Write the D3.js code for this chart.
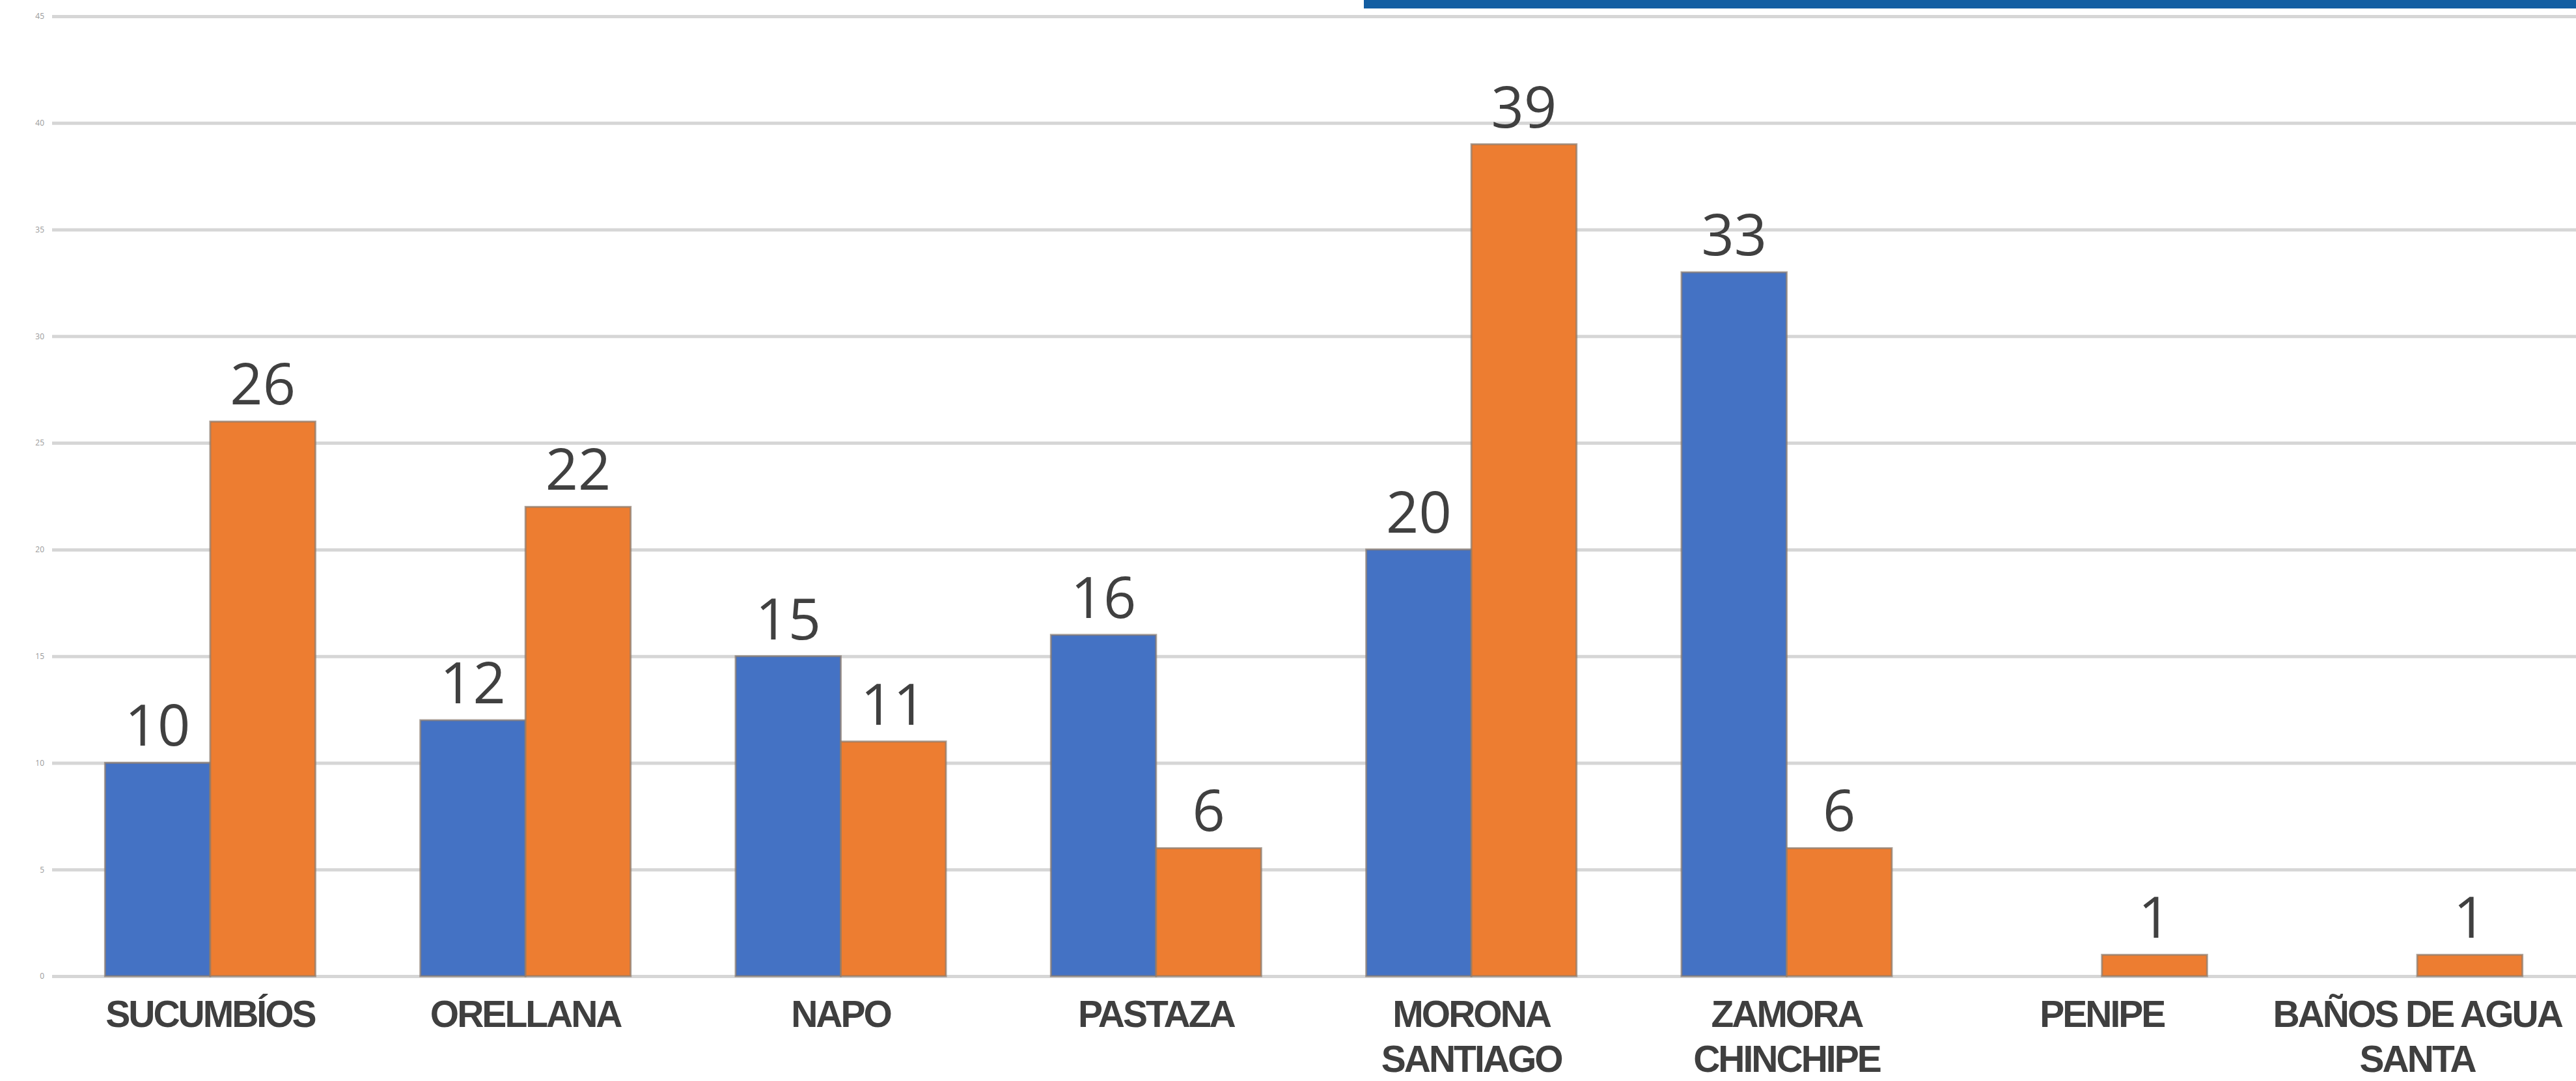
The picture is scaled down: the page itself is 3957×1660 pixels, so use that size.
<!DOCTYPE html>
<html><head><meta charset="utf-8">
<script src="https://cdn.jsdelivr.net/npm/d3@7"></script>
<style>html,body{margin:0;padding:0;background:#fff;overflow:hidden}</style>
</head><body>
<svg id="c" width="3957" height="1660"></svg>
<script>
const categories = [["SUCUMBÍOS"],["ORELLANA"],["NAPO"],["PASTAZA"],["MORONA","SANTIAGO"],["ZAMORA","CHINCHIPE"],["PENIPE"],["BAÑOS DE AGUA","SANTA"]];
const seriesA = [10,12,15,16,20,33,0,0];
const seriesB = [26,22,11,6,39,6,1,1];
const yTicks = [0,5,10,15,20,25,30,35,40,45];

const W = 3957, H = 1660;
const svg = d3.select("#c");
const keys = categories.map((c,i)=>String(i));
const x = d3.scaleBand().domain(keys).range([80, 3956]).paddingInner(0.333).paddingOuter(0.168);
const xs = d3.scaleBand().domain(["a","b"]).range([0, x.bandwidth()]).padding(0);
const y = d3.scaleLinear().domain([0,45]).range([1499, 25]);

// top decorative banner
svg.append("rect").attr("x",2095).attr("y",0).attr("width",W-2095).attr("height",13).attr("fill","#135ea2");

// gridlines
const gAxis = svg.append("g").attr("transform","translate(80,0)")
  .call(d3.axisLeft(y).tickValues(yTicks).tickSize(-(W-80)).tickPadding(12));
gAxis.select(".domain").remove();
gAxis.selectAll(".tick line").attr("stroke","#d6d6d6").attr("stroke-width",5);
gAxis.selectAll(".tick text").attr("fill","#9a9a9a").attr("font-size",12).attr("font-family","Open Sans");

const groups = svg.append("g").selectAll("g").data(keys).join("g")
  .attr("transform", d=>`translate(${x(d)},0)`);

const series = [{k:"a", vals:seriesA, fill:"#4472c4"},{k:"b", vals:seriesB, fill:"#ed7d31"}];
series.forEach(s=>{
  groups.filter((d,i)=>s.vals[i]>0).append("rect")
    .attr("x", xs(s.k)).attr("width", xs.bandwidth())
    .attr("y", (d)=>y(s.vals[+d])).attr("height",(d)=>y(0)-y(s.vals[+d]))
    .attr("fill", s.fill).attr("stroke","#8a7a6e").attr("stroke-width",3).attr("stroke-opacity",0.7);
  groups.filter((d,i)=>s.vals[i]>0).append("text")
    .attr("x", xs(s.k)+xs.bandwidth()/2).attr("y",(d)=>y(s.vals[+d])-26)
    .attr("text-anchor","middle").attr("font-family","Open Sans").attr("font-size",88)
    .attr("fill","#404040").text(d=>s.vals[+d]);
});

// category labels
groups.each(function(d,i){
  categories[i].forEach((line,j)=>{
    d3.select(this).append("text")
      .attr("x", x.bandwidth()/2).attr("y", 1577 + j*69)
      .attr("text-anchor","middle").attr("font-family","Liberation Sans").attr("font-weight","bold")
      .attr("font-size",57).attr("fill","#3f3f3f").attr("letter-spacing",-3)
      .text(line);
  });
});
</script>
</body></html>
